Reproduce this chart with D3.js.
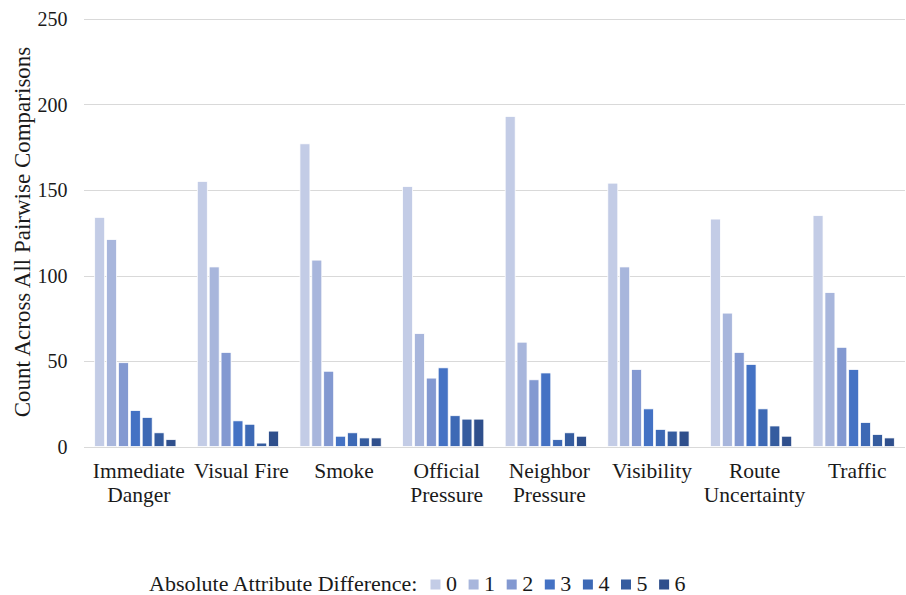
<!DOCTYPE html>
<html>
<head>
<meta charset="utf-8">
<script src="https://cdn.jsdelivr.net/npm/d3@7"></script>
<style>
  html, body { margin: 0; padding: 0; background: #fff; }
  svg text, svg tspan { font-family: "Liberation Serif", "Times New Roman", serif !important; }
</style>
</head>
<body>
<svg id="chart" width="906" height="595" font-family="Liberation Serif"></svg>
<script>
// Attribute categories (two-line labels)
const categories = [
  "Immediate Danger", "Visual Fire", "Smoke", "Official Pressure",
  "Neighbor Pressure", "Visibility", "Route Uncertainty", "Traffic"
];
const categoryLines = [
  ["Immediate", "Danger"], ["Visual Fire"], ["Smoke"], ["Official", "Pressure"],
  ["Neighbor", "Pressure"], ["Visibility"], ["Route", "Uncertainty"], ["Traffic"]
];

// Absolute attribute difference levels
const diffLevels = ["0", "1", "2", "3", "4", "5", "6"];

// Counts per difference level, one value per category
const diff0 = [134, 155, 177, 152, 193, 154, 133, 135];
const diff1 = [121, 105, 109, 66, 61, 105, 78, 90];
const diff2 = [49, 55, 44, 40, 39, 45, 55, 58];
const diff3 = [21, 15, 6, 46, 43, 22, 48, 45];
const diff4 = [17, 13, 8, 18, 4, 10, 22, 14];
const diff5 = [8, 2, 5, 16, 8, 9, 12, 7];
const diff6 = [4, 9, 5, 16, 6, 9, 6, 5];

const yTicks = [0, 50, 100, 150, 200, 250];
const colors = ["#c3cce6", "#a8b6dc", "#8399d1", "#4472c4", "#3d69b5", "#355c9f", "#2f4f8c"];

const seriesValues = [diff0, diff1, diff2, diff3, diff4, diff5, diff6];

const FONT = "Liberation Serif";
const TEXT = "#1a1a1a";
const svg = d3.select("#chart");
const plot = { left: 84, right: 905, top: 19, bottom: 446.5 };

// every label uses the same serif face
function serif(sel) {
  return sel.attr("font-family", FONT).style("font-family", "'Liberation Serif', 'Times New Roman', serif");
}

const y = d3.scaleLinear().domain([0, 250]).range([plot.bottom, plot.top]);
const x0 = d3.scaleBand().domain(categories).range([plot.left, plot.right]).paddingInner(0).paddingOuter(0);
const x1 = d3.scaleBand().domain(diffLevels).range([0, x0.bandwidth()]).paddingInner(0.16).paddingOuter(0.9);
const color = d3.scaleOrdinal().domain(diffLevels).range(colors);

// Horizontal gridlines
svg.append("g")
  .selectAll("line")
  .data(yTicks)
  .join("line")
  .attr("x1", plot.left)
  .attr("x2", plot.right)
  .attr("y1", d => Math.round(y(d)) + 0.5)
  .attr("y2", d => Math.round(y(d)) + 0.5)
  .attr("stroke", "#d9d9d9")
  .attr("stroke-width", 1);

// Y axis tick labels
const yAxis = d3.axisLeft(y).tickValues(yTicks).tickSize(0).tickPadding(0);
const yg = svg.append("g").attr("transform", "translate(67.5,0)").call(yAxis);
serif(yg).attr("font-size", 20);
yg.select(".domain").remove();
serif(yg.selectAll("text"))
  .attr("fill", TEXT)
  .attr("dy", "0.34em");

// Y axis title
serif(svg.append("text"))
  .attr("transform", "translate(30,232) rotate(-90)")
  .attr("text-anchor", "middle")
  .attr("font-size", 23)
  .attr("fill", TEXT)
  .text("Count Across All Pairwise Comparisons");

// Bars
const groups = svg.append("g")
  .selectAll("g")
  .data(categories)
  .join("g")
  .attr("transform", d => `translate(${x0(d)},0)`);

groups.selectAll("rect")
  .data((d, i) => diffLevels.map((lvl, j) => ({ lvl, value: seriesValues[j][i] })))
  .join("rect")
  .attr("x", d => x1(d.lvl))
  .attr("width", x1.bandwidth())
  .attr("y", d => y(d.value))
  .attr("height", d => y(0) - y(d.value))
  .attr("fill", d => color(d.lvl))
  .attr("stroke", "#ffffff")
  .attr("stroke-width", 0.75);

// Category labels
const labels = serif(svg.append("g")
  .selectAll("text")
  .data(categories)
  .join("text"))
  .attr("x", d => x0(d) + x0.bandwidth() / 2 + 3.5)
  .attr("y", 478)
  .attr("text-anchor", "middle")
  .attr("font-size", 21.5)
  .attr("fill", TEXT);
labels.selectAll("tspan")
  .data((d, i) => categoryLines[i])
  .join("tspan")
  .attr("x", function () { return d3.select(this.parentNode).attr("x"); })
  .attr("dy", (d, i) => i === 0 ? 0 : 23.5)
  .text(d => d);

// Legend
const legend = svg.append("g");
serif(legend.append("text"))
  .attr("x", 149)
  .attr("y", 591)
  .attr("font-size", 22)
  .attr("fill", TEXT)
  .text("Absolute Attribute Difference:");
const legendStep = 38.1;
const items = legend.selectAll("g.item")
  .data(diffLevels)
  .join("g")
  .attr("class", "item")
  .attr("transform", (d, i) => `translate(${430.5 + i * legendStep},0)`);
items.append("rect")
  .attr("x", 0)
  .attr("y", 579.5)
  .attr("width", 10)
  .attr("height", 10)
  .attr("fill", d => color(d));
serif(items.append("text"))
  .attr("x", 15.5)
  .attr("y", 591)
  .attr("font-size", 22)
  .attr("fill", TEXT)
  .text(d => d);
</script>
</body>
</html>
